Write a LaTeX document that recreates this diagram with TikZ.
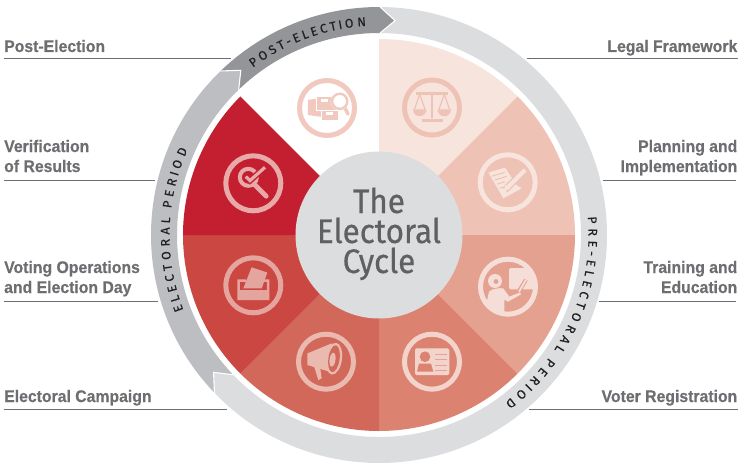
\documentclass[tikz,border=0pt]{standalone}
\usepackage{fontspec}
\usetikzlibrary{decorations.text}
\setmainfont{Liberation Sans}
\newfontfamily\labelfont{Liberation Sans}[FakeStretch=0.94,BoldFeatures={FakeBold=0.4}]
\newfontfamily\firafont{Fira Sans}[FakeBold=0.35]
\newfontfamily\titlefont{Fira Sans}[FakeStretch=0.925,FakeBold=0.5]
\definecolor{seg1}{HTML}{F7E4DD}
\definecolor{seg2}{HTML}{EFC2B6}
\definecolor{seg3}{HTML}{E5A18F}
\definecolor{seg4}{HTML}{DB8370}
\definecolor{seg5}{HTML}{D2685A}
\definecolor{seg6}{HTML}{CB4741}
\definecolor{seg7}{HTML}{C41F30}
\definecolor{ringlight}{HTML}{DCDDDF}
\definecolor{ringmid}{HTML}{BCBEC1}
\definecolor{ringdark}{HTML}{939598}
\definecolor{labelgrey}{HTML}{6D6E71}
\definecolor{titlegrey}{HTML}{5F6062}
\definecolor{ringtext}{HTML}{231F20}
\newcommand{\seg}[3]{\fill[#1] (0,0) -- (#2:196) arc[start angle=#2,end angle=#3,radius=196] -- cycle;}
\newcommand{\ringpart}[5]{%
  \fill[#1] (#2:228) -- (#3:215) -- (#2:202) arc[start angle=#2,end angle=#4,radius=202]
     -- (#5:215) -- (#4:228) arc[start angle=#4,end angle=#2,radius=228] -- cycle;}
\newcommand{\ringtip}[2]{\draw[white,line width=1.1,line join=miter] (#1:202) -- (#2:215) -- (#1:228);}
\newcommand{\icontint}[2]{\colorlet{ic}{#1}\colorlet{bk}{#2}\draw[ic,line width=5] (0,0) circle (27.5);}
\newcommand{\ringword}[3]{%
  \path[decorate,decoration={text effects along path,text={#1},
     text effects/.cd,text along path,fit text to path,characters={font=\firafont\fontsize{12.5}{13}\selectfont,text=ringtext}}]
     (#2:209.5) arc[start angle=#2,end angle=#3,radius=209.5];}
\tikzset{
  leader/.style={labelgrey,line width=1},
  sidelabel/.style={text=labelgrey,font=\labelfont\bfseries\fontsize{16.8}{20}\selectfont,inner sep=0pt},
  leftlabel/.style={sidelabel,anchor=base west,align=left},
  rightlabel/.style={sidelabel,anchor=base east,align=right},
}
\begin{document}
\begin{tikzpicture}[x=1pt,y=1pt]
\useasboundingbox (-379,-231) rectangle (365,235);
\fill[white] (-379,-231) rectangle (365,235);
% leaders
\coordinate (a1) at (-375,176); \coordinate (b1) at (-148,176);
\coordinate (a2) at (-375,55);  \coordinate (b2) at (-224,55);
\coordinate (a3) at (-375,-66); \coordinate (b3) at (-221,-66);
\coordinate (a4) at (-375,-174);\coordinate (b4) at (-152,-174);
\coordinate (a5) at (359,176);  \coordinate (b5) at (148,176);
\coordinate (a6) at (357,55);   \coordinate (b6) at (224,55);
\coordinate (a7) at (357,-66);  \coordinate (b7) at (220,-66);
\coordinate (a8) at (359,-174); \coordinate (b8) at (150,-174);
\foreach \i in {1,...,8}{\draw[leader] (a\i) -- (b\i);}
% ring
\ringpart{ringlight}{89.7}{85.7}{-136.2}{-140.3}
\ringpart{ringmid}{223.8}{219.7}{134}{130}
\ringpart{ringdark}{134}{130}{89.7}{85.7}
\ringtip{-136.2}{-140.3}
\ringtip{134}{130}
\ringtip{89.7}{85.7}
\ringword{POST-ELECTION}{127}{93.5}
\ringword{ELECTORAL PERIOD}{201}{156}
\ringword{PRE-ELECTORAL PERIOD}{5}{-53}
% wedges
\seg{seg1}{90}{45}
\seg{seg2}{45}{0}
\seg{seg3}{0}{-45}
\seg{seg4}{-45}{-90}
\seg{seg5}{-90}{-135}
\seg{seg6}{-135}{-180}
\seg{seg7}{180}{135}
% centre
\node[circle,fill=ringlight,minimum size=167,inner sep=0pt] (hub) at (0,0) {};
\node[text=titlegrey,font=\titlefont\fontsize{34}{30}\selectfont,align=center,inner sep=0pt,anchor=base] (title) at (0,-38) {The\\Electoral\\Cycle};
% post-election icon
\begin{scope}[shift={(-52,127)}]
  \icontint{seg2!80!seg1}{white}
  \fill[ic] (-19,8) -- (-7,10) -- (-5,8) -- (-5,-9) -- (-19,-7) -- cycle;
  \fill[ic,draw=bk,line width=.8] (-11,12) rectangle (9,-2);
  \fill[ic,draw=bk,line width=.8] (-6,-2) rectangle (11,-12);
  \fill[bk] (-6,9) rectangle (1,6);
  \fill[bk] (-1,-4.5) rectangle (6,-7);
  \draw[ic,line width=3.4,line cap=round] (17,2) -- (21,-6);
  \fill[bk] (12.7,6.7) circle (9);
  \draw[ic,line width=2.4] (12.7,6.7) circle (7.6);
\end{scope}
% legal framework icon
\begin{scope}[shift={(53,127.5)}]
  \icontint{seg2}{seg1}
  \fill[ic] (-16,15) rectangle (16,12.8);
  \fill[ic] (-1.3,14) rectangle (1.3,-11);
  \fill[ic] (-10.5,-11.5) rectangle (11,-15);
  \draw[ic,line width=1.2] (-17.5,-2) -- (-12.3,13.5) -- (-7,-2);
  \draw[ic,line width=1.2] (7,-2) -- (12.3,13.5) -- (17.5,-2);
  \fill[ic] (-19,-2) arc[start angle=180,end angle=360,radius=6.7] -- cycle;
  \fill[ic] (5.6,-2) arc[start angle=180,end angle=360,radius=6.7] -- cycle;
\end{scope}
% planning icon
\begin{scope}[shift={(128.7,52.7)}]
  \icontint{seg1}{seg2}
  \fill[ic] (-19.3,9.7) -- (-2.7,14.7) -- (9,-3) -- (14,-6) -- (-4.3,-16) -- cycle;
  \draw[bk,line width=7] (17.3,12.3) -- (-2.7,-7.7);
  \draw[ic,line width=4] (17.3,12.3) -- (0,-5);
  \fill[ic] (-2.5,-2.5) -- (-4,-9) -- (2.5,-6.5) -- cycle;
  \draw[bk,line width=1] (-15.5,6.2) -- (-3,10);
  \draw[bk,line width=1] (-13,2.2) -- (-1,6);
  \draw[bk,line width=1] (-10.5,-1.8) -- (-3,.6);
  \draw[bk,line width=1] (-8,-5.8) -- (-5,-4.8);
\end{scope}
% training icon
\begin{scope}[shift={(129,-51.7)}]
  \icontint{seg3!35!white}{seg3}
  \begin{scope}
    \clip (0,0) circle (25.6);
    \fill[ic,rounded corners=1.5] (1,18.5) rectangle (30,-2.7);
    \draw[bk,line width=4] (18,7) -- (10,-6);
    \draw[ic,line width=1.8] (18,7) -- (11,-5);
    \fill[ic] (-13,5.7) circle (7);
    \fill[bk] (-12,5.2) circle (2.4);
    \fill[ic] (-21,-14) -- (-19,-5) .. controls (-17,-2) and (-8,-1) .. (-4.7,-1.7) -- (1.3,-10) -- (12,-5.7) -- (13,-7.7) -- (0,-15) -- (-3.7,-13) -- (-3.7,-30) -- (-21,-30) -- cycle;
  \end{scope}
\end{scope}
% voter registration icon
\begin{scope}[shift={(53,-126.7)}]
  \icontint{seg4!35!white}{seg4}
  \fill[ic,rounded corners=1.5] (-17,13.3) rectangle (17.3,-13.3);
  \fill[seg4] (-7,5) circle (5.3);
  \fill[seg4] (-15,-10) -- (-13,-2) -- (-1,-2) -- (1.3,-10) -- cycle;
  \foreach \yy in {7.7,2.3,-3.3,-8.3}{\draw[seg4!60!ic,line width=.7] (3,\yy) -- (14.7,\yy);}
\end{scope}
% campaign icon
\begin{scope}[shift={(-53,-126.7)}]
  \icontint{seg5!35!seg1}{seg5}
  \fill[ic] (-18.7,8.3) -- (5.7,18.3) -- (9,-11.7) -- (-18.7,-3.3) -- cycle;
  \fill[ic] (-12.7,-2) -- (-7.7,-18.3) -- (-4.3,-16.7) -- (-6,-5) -- cycle;
  \fill[ic,rotate around={-8:(8,3)}] (8,3) ellipse (8 and 16);
  \fill[bk,rotate around={-8:(8,3)}] (8,3) ellipse (5.6 and 13.5);
  \fill[ic,rotate around={-8:(6.5,2)}] (6.5,2) ellipse (3 and 7);
\end{scope}
% voting icon
\begin{scope}[shift={(-125.7,-50.3)}]
  \icontint{seg6!40!seg1}{seg6}
  \fill[ic] (-16,6) -- (-7.5,6) -- (-7.5,3.5) -- (-13.5,3.5) -- (-13.5,-4.8) -- (13.5,-4.8) -- (13.5,3.5) -- (10.5,3.5) -- (10.5,6) -- (16,6) -- (16,-14.7) -- (-16,-14.7) -- cycle;
  \fill[ic] (-1.7,18) -- (14,12.7) -- (8.5,-3) -- (-10,-3) -- cycle;
\end{scope}
% verification icon
\begin{scope}[shift={(-125.7,51.7)}]
  \icontint{seg7!30!seg1}{seg7}
  \draw[ic,line width=4.6,line cap=round] (1,-1) -- (13,-13);
  \draw[ic,line width=4] (-5,6) circle (8.5);
  \draw[seg7,line width=6] (-7.5,6.7) -- (-3.3,2.7) -- (11.7,16);
  \draw[ic,line width=3.2] (-7.5,6.7) -- (-3.3,2.7) -- (11.7,16);
\end{scope}
% labels
\node[leftlabel] (l1) at (-375,183) {Post-Election};
\node[leftlabel] (l2) at (-375,63) {Verification\\of Results};
\node[leftlabel] (l3) at (-375,-58) {Voting Operations\\and Election Day};
\node[leftlabel] (l4) at (-375,-167) {Electoral Campaign};
\node[rightlabel] (r1) at (358.5,183) {Legal Framework};
\node[rightlabel] (r2) at (358.5,63) {Planning and\\Implementation};
\node[rightlabel] (r3) at (358.5,-58) {Training and\\Education};
\node[rightlabel] (r4) at (358.5,-167) {Voter Registration};
\end{tikzpicture}
\end{document}
